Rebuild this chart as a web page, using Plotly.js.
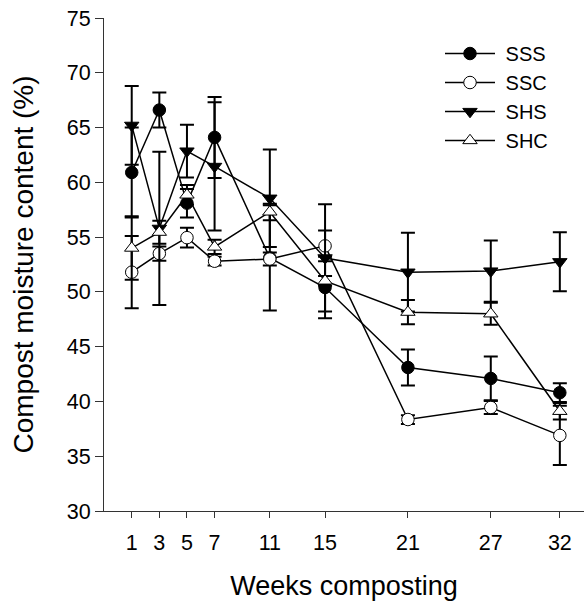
<!DOCTYPE html>
<html>
<head>
<meta charset="utf-8">
<script src="https://cdn.plot.ly/plotly-3.0.1.min.js"></script>
<style>
  html, body { margin: 0; padding: 0; background: #fff; }
  #chart { width: 584px; height: 610px; }
</style>
</head>
<body>
<div id="chart"></div>
<script>
// Sampling weeks
const weeks = [1, 3, 5, 7, 11, 15, 21, 27, 32];
const weekTicks = ['1', '3', '5', '7', '11', '15', '21', '27', '32'];

// Compost moisture content (%) — means and standard errors
const sss    = [60.9, 66.6, 58.1, 64.1, 53.1, 50.4, 43.1, 42.1, 40.8];
const sssErr = [4.1, 1.6, 1.3, 3.7, 4.8, 2.8, 1.65, 2.0, 0.85];

const ssc    = [51.8, 53.5, 54.95, 52.8, 53.0, 54.2, 38.35, 39.45, 36.9];
const sscErr = [3.3, 0.65, 0.9, 0.4, 0.6, 1.4, 0.4, 0.6, 2.7];

const shs    = [65.2, 55.8, 62.85, 61.45, 58.55, 53.1, 51.8, 51.9, 52.75];
const shsErr = [3.6, 7.0, 2.4, 5.85, 4.45, 4.9, 3.6, 2.8, 2.7];

const shc    = [54.0, 55.45, 58.85, 54.1, 57.3, 51.0, 48.15, 48.0, 39.1];
const shcErr = [2.9, 1.05, 0.9, 0.65, 0.75, 0.45, 1.1, 1.0, 0.75];

const seriesNames = ['SSS', 'SSC', 'SHS', 'SHC'];

const FONT = 'Liberation Sans, Arial, sans-serif';

function series(name, y, err, symbol, fill) {
  return {
    type: 'scatter',
    mode: 'lines+markers',
    // non-breaking space widens the gap between legend key and label
    name: '\u00a0' + name,
    x: weeks,
    y: y,
    line: { color: '#000', width: 1.5 },
    marker: {
      symbol: symbol,
      size: 12.5,
      color: fill,
      line: { color: '#000', width: 1 }
    },
    error_y: {
      type: 'data',
      array: err,
      visible: true,
      color: '#000',
      thickness: 2,
      width: 7
    },
    cliponaxis: false
  };
}

const data = [
  series(seriesNames[0], sss, sssErr, 'circle', '#000'),
  series(seriesNames[1], ssc, sscErr, 'circle', '#fff'),
  series(seriesNames[2], shs, shsErr, 'triangle-down', '#000'),
  series(seriesNames[3], shc, shcErr, 'triangle-up', '#fff')
];

const layout = {
  width: 584,
  height: 610,
  margin: { l: 104, r: 0, t: 18, b: 99 },
  paper_bgcolor: '#fff',
  plot_bgcolor: '#fff',
  font: { family: FONT, color: '#000' },
  showlegend: true,
  legend: {
    x: 0.70,
    y: 0.9675,
    xanchor: 'left',
    yanchor: 'top',
    bgcolor: 'rgba(0,0,0,0)',
    font: { family: FONT, size: 20, color: '#000' },
    itemwidth: 50,
    tracegroupgap: 0
  },
  xaxis: {
    range: [-1.007, 33.75],
    tickmode: 'array',
    tickvals: weeks,
    ticktext: weekTicks,
    ticks: 'outside',
    ticklen: 6,
    tickwidth: 1,
    tickcolor: '#333',
    ticklabelstandoff: 6,
    showline: true,
    linecolor: '#333',
    linewidth: 1,
    showgrid: false,
    zeroline: false,
    tickfont: { family: FONT, size: 21.5, color: '#000' },
    title: {
      text: 'Weeks composting',
      font: { family: FONT, size: 27, color: '#000' },
      standoff: 22
    }
  },
  yaxis: {
    range: [30, 75],
    tickmode: 'array',
    tickvals: [30, 35, 40, 45, 50, 55, 60, 65, 70, 75],
    ticks: 'outside',
    ticklen: 8,
    tickwidth: 1,
    tickcolor: '#333',
    showline: true,
    linecolor: '#333',
    linewidth: 1,
    showgrid: false,
    zeroline: false,
    tickfont: { family: FONT, size: 21.5, color: '#000' },
    title: {
      text: 'Compost moisture content (%)',
      font: { family: FONT, size: 28, color: '#000' },
      standoff: 24
    }
  }
};

Plotly.newPlot('chart', data, layout, { displayModeBar: false, staticPlot: true });
</script>
</body>
</html>
